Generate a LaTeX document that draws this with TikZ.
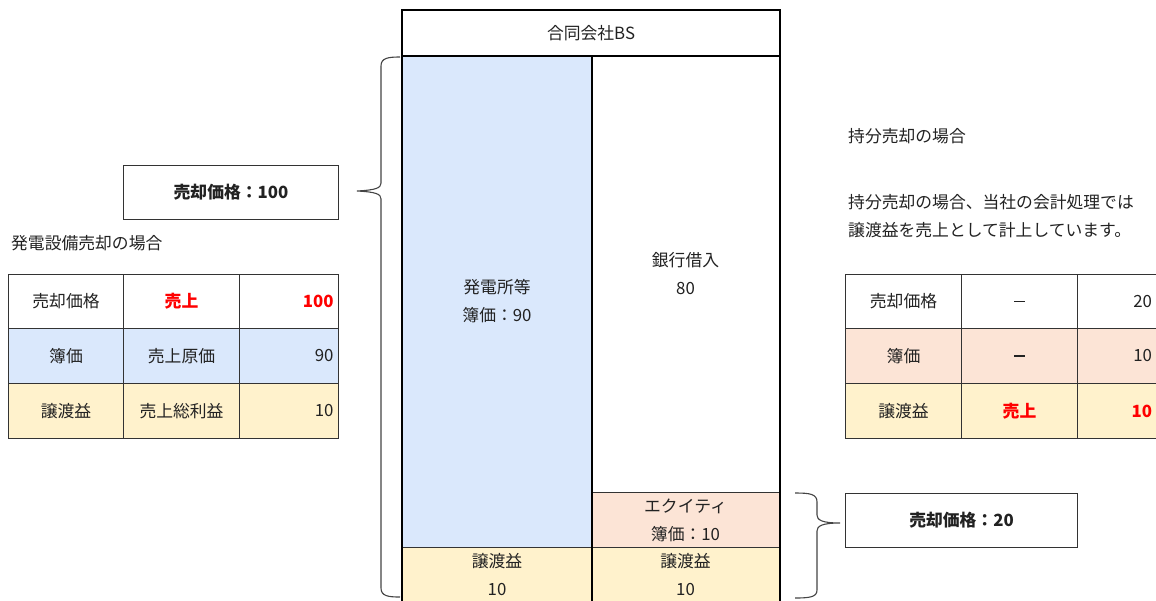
\documentclass[tikz,border=0pt]{standalone}
\usepackage{fontspec}
\setmainfont{Noto Sans CJK JP}
\definecolor{txt}{HTML}{222222}
\definecolor{tline}{HTML}{333333}
\definecolor{cblue}{HTML}{DAE8FC}
\definecolor{cyellow}{HTML}{FFF2CC}
\definecolor{cpink}{HTML}{FCE4D6}
\definecolor{cred}{HTML}{FF0000}
\definecolor{bracec}{HTML}{444444}
\newcommand{\mydash}{\textcolor{txt}{\rule{11pt}{1.2pt}}}
\begin{document}
\begin{tikzpicture}[x=1pt,y=-1pt,
  every node/.style={font=\fontsize{16.8}{28}\selectfont, text=txt},
  cell/.style={draw=tline, line width=1pt, inner sep=0pt, anchor=north west, align=center},
  numcell/.style={cell, align=right},
  bsc/.style={draw=tline, line width=1pt, inner sep=0pt, anchor=north west, align=center},
  redb/.style={text=cred, font=\fontsize{16.8}{28}\selectfont\bfseries},
  label/.style={inner sep=0pt, anchor=west},
  pricebox/.style={draw=tline, line width=1pt, inner sep=0pt, anchor=north west, font=\fontsize{16.8}{28}\selectfont\bfseries},
  brace/.style={draw=bracec, line width=1.1pt},
  thick outline/.style={draw=black, line width=2pt}
]
\useasboundingbox (0,0) rectangle (1156,600);
\clip (0,0) rectangle (1156,600);

% ---------- Balance sheet ----------
\node[bsc, minimum width=377, minimum height=45] (hdr) at (402,10) {合同会社BS};
\node[bsc, fill=cblue, minimum width=189, minimum height=492] (plant) at (402,55) {発電所等\\簿価：90};
\node[bsc, fill=white, minimum width=188, minimum height=437] (loan) at (591,55) {銀行借入\\80};
\node[bsc, fill=cpink, minimum width=188, minimum height=55] (equity) at (591,492) {エクイティ\\簿価：10};
\node[bsc, fill=cyellow, minimum width=189, minimum height=55] (gainL) at (402,547) {譲渡益\\10};
\node[bsc, fill=cyellow, minimum width=188, minimum height=55] (gainR) at (591,547) {譲渡益\\10};
\draw[thick outline] (hdr.north west) rectangle (hdr.south east);
\draw[thick outline] (plant.north west) -- ([yshift=-3pt]gainL.south west);
\draw[thick outline] (loan.north east) -- ([yshift=-3pt]gainR.south east);
\draw[thick outline] (plant.north east) -- ([yshift=-3pt]gainL.south east);

% ---------- price boxes ----------
\node[pricebox, minimum width=215, minimum height=54] (p100) at (123,165) {売却価格：100};
\node[pricebox, minimum width=232, minimum height=54] (p20) at (845,493) {売却価格：20};

% ---------- braces ----------
\coordinate (lbT) at (400,57);
\coordinate (lbB) at (400,597);
\coordinate (lbTip) at (357,191);
\draw[brace] (lbT) .. controls (388,57) and (381,58) .. (381,66) -- (381,183)
  .. controls (381,188) and (376,190) .. (lbTip)
  .. controls (376,192) and (381,194) .. (381,199) -- (381,588)
  .. controls (381,596) and (388,597) .. (lbB);

\coordinate (rbT) at (795,493);
\coordinate (rbB) at (795,598);
\coordinate (rbTip) at (840,523);
\draw[brace] (rbT) .. controls (810,493) and (817,494) .. (817,502) -- (817,515)
  .. controls (817,520) and (822,523) .. (rbTip)
  .. controls (822,523) and (817,526) .. (817,531) -- (817,590)
  .. controls (817,597) and (810,598) .. (rbB);

% ---------- left table ----------
\node[label] (lt) at (11,243) {発電設備売却の場合};
\node[cell, fill=white, minimum width=115, minimum height=54] (a11) at (8,274) {売却価格};
\node[cell, fill=white, minimum width=116, minimum height=54, redb] (a12) at (123,274) {売上};
\node[numcell, fill=white, minimum width=99, minimum height=54, text width=89, redb] (a13) at (239,274) {100};
\node[cell, fill=cblue, minimum width=115, minimum height=55] (a21) at (8,328) {簿価};
\node[cell, fill=cblue, minimum width=116, minimum height=55] (a22) at (123,328) {売上原価};
\node[numcell, fill=cblue, minimum width=99, minimum height=55, text width=89] (a23) at (239,328) {90};
\node[cell, fill=cyellow, minimum width=115, minimum height=55] (a31) at (8,383) {譲渡益};
\node[cell, fill=cyellow, minimum width=116, minimum height=55] (a32) at (123,383) {売上総利益};
\node[numcell, fill=cyellow, minimum width=99, minimum height=55, text width=89] (a33) at (239,383) {10};

% ---------- right side ----------
\node[label] (rt1) at (848,136) {持分売却の場合};
\node[label, align=left] (rt2) at (848,216) {持分売却の場合、当社の会計処理では\\譲渡益を売上として計上しています。};
\node[cell, fill=white, minimum width=116, minimum height=54] (b11) at (845,274) {売却価格};
\node[cell, fill=white, minimum width=116, minimum height=54] (b12) at (961,274) {\mydash};
\node[numcell, fill=white, minimum width=81, minimum height=54, text width=68] (b13) at (1077,274) {20};
\node[cell, fill=cpink, minimum width=116, minimum height=55] (b21) at (845,328) {簿価};
\node[cell, fill=cpink, minimum width=116, minimum height=55] (b22) at (961,328) {\mydash};
\node[numcell, fill=cpink, minimum width=81, minimum height=55, text width=68] (b23) at (1077,328) {10};
\node[cell, fill=cyellow, minimum width=116, minimum height=55] (b31) at (845,383) {譲渡益};
\node[cell, fill=cyellow, minimum width=116, minimum height=55, redb] (b32) at (961,383) {売上};
\node[numcell, fill=cyellow, minimum width=81, minimum height=55, text width=68, redb] (b33) at (1077,383) {10};
\end{tikzpicture}
\end{document}
